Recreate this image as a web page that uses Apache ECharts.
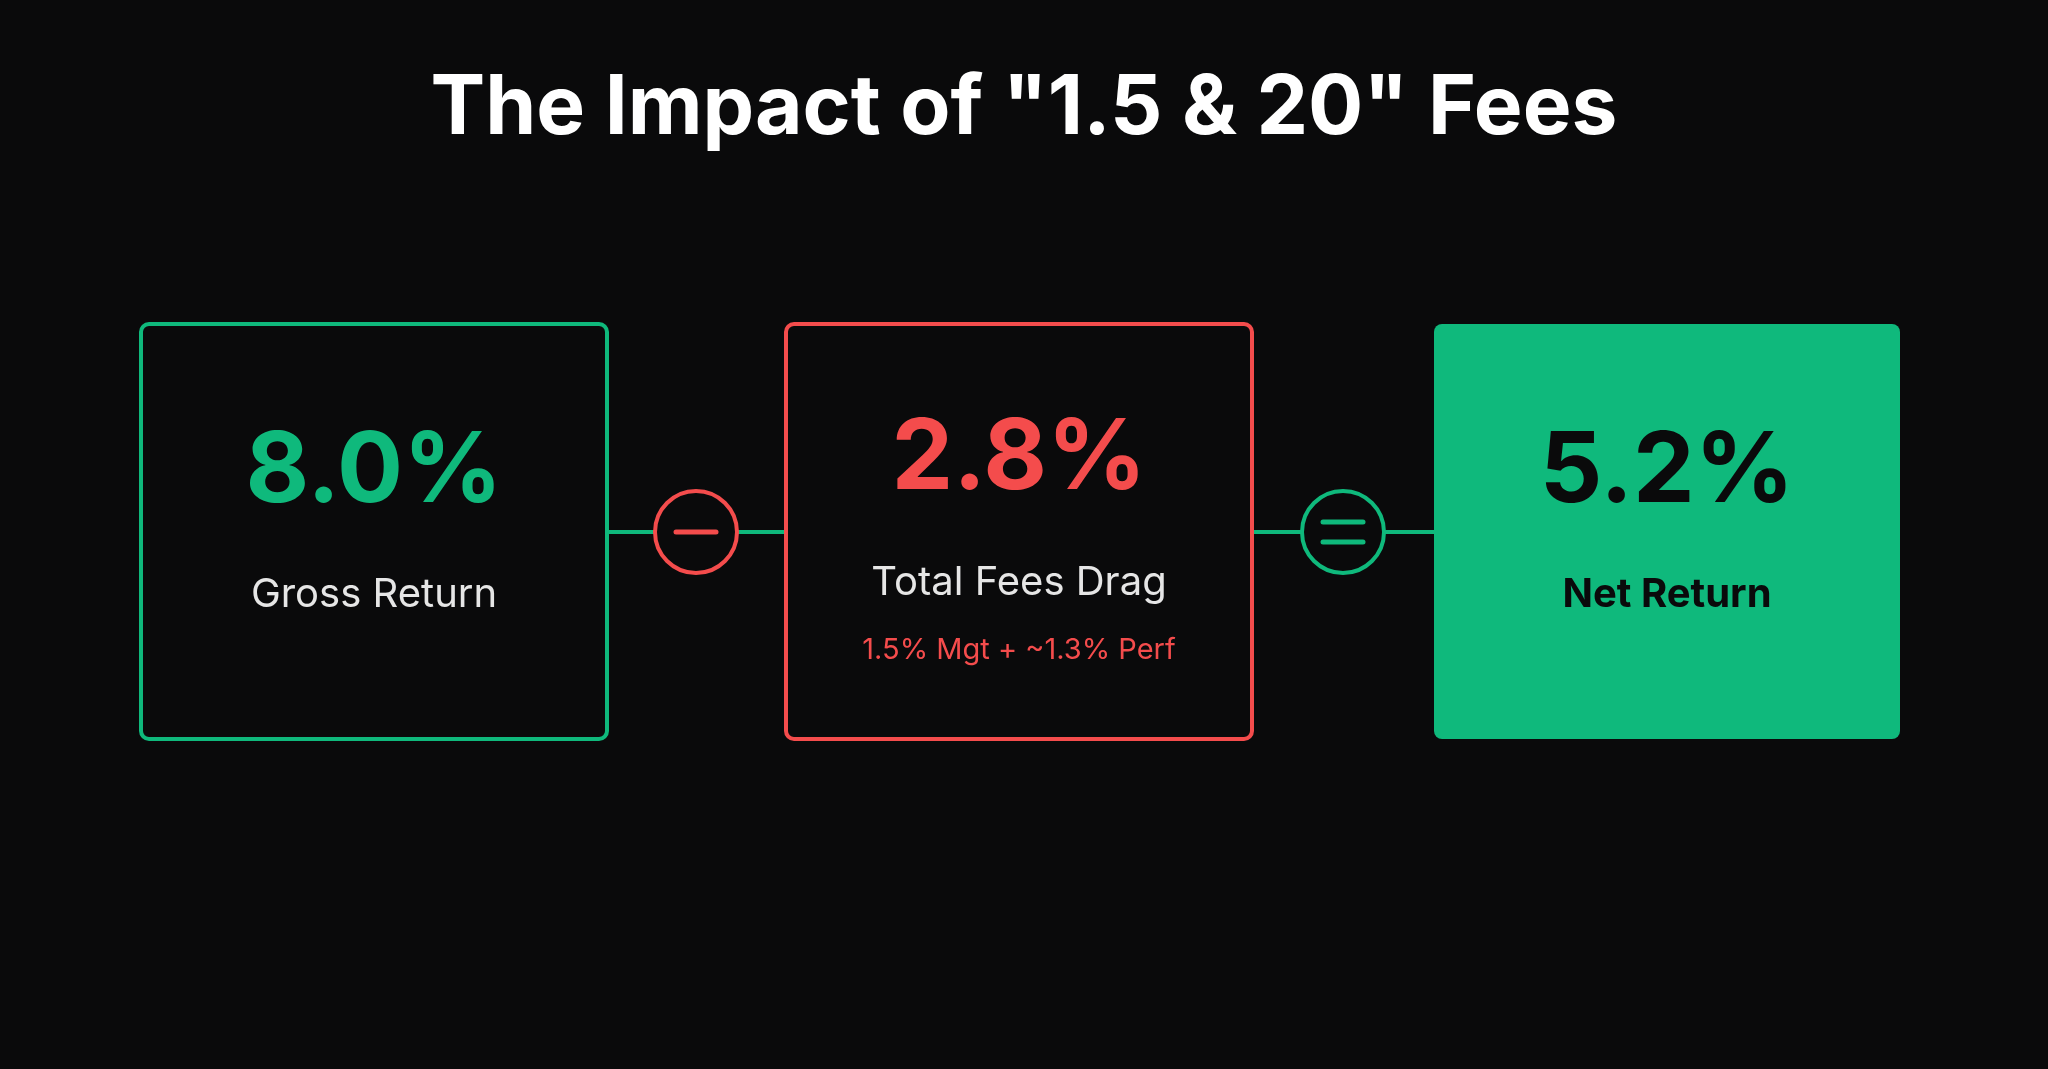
<!DOCTYPE html>
<html><head><meta charset="utf-8">
<script src="https://cdn.jsdelivr.net/npm/echarts@6/dist/echarts.min.js"></script>
<style>html,body{margin:0;background:#0a0a0b}#c{width:2048px;height:1069px}</style>
</head><body><div id="c"></div>
<script>
const titleText = 'The Impact of "1.5 & 20" Fees';
const values = ['8.0%', '2.8%', '5.2%'];
const labels = ['Gross Return', 'Total Fees Drag', 'Net Return'];
const subLabels = ['', '1.5% Mgt + ~1.3% Perf', ''];
const operators = ['minus', 'equals'];

const GREEN = '#0fb97c', RED = '#f44c4c', BG = '#0a0a0b';
const F = 'Inter, "Noto Sans", sans-serif';
const boxX = [141, 786, 1434], boxW = 466, boxY = 324, boxH = 415;
const styles = [
  {stroke: GREEN, fill: BG, val: GREEN, lab: '#e6e6e6'},
  {stroke: RED, fill: BG, val: RED, lab: '#e6e6e6'},
  {stroke: GREEN, fill: GREEN, val: '#0a0a0b', lab: '#0a0a0b'}
];
const g = [];
g.push({type:'text', left:'center', top:68, style:{text:titleText, fill:'#fff', font:'bold 82px '+F}});
// connectors
g.push({type:'line', shape:{x1:607,y1:532,x2:786,y2:532}, style:{stroke:GREEN,lineWidth:4}, z:1});
g.push({type:'line', shape:{x1:1254,y1:532,x2:1434,y2:532}, style:{stroke:GREEN,lineWidth:4}, z:1});
values.forEach((v,i)=>{
  const s = styles[i], cx = boxX[i] + boxW/2;
  g.push({type:'rect', shape:{x:boxX[i],y:boxY,width:boxW,height:boxH,r:8}, style:{fill:s.fill, stroke: i===2?null:s.stroke, lineWidth:4}, z:2});
  const hasSub = !!subLabels[i];
  g.push({type:'text', x:cx, y: hasSub?460:473, style:{text:v, fill:s.val, font:'bold 98px '+F, align:'center', verticalAlign:'middle'}, z:3});
  g.push({type:'text', x:cx, y: hasSub?583:595, style:{text:labels[i], fill:s.lab, font:(i===2?'bold ':'')+'40px '+F, align:'center', verticalAlign:'middle'}, z:3});
  if (hasSub) g.push({type:'text', x:cx, y:650, style:{text:subLabels[i], fill:RED, font:'29px '+F, align:'center', verticalAlign:'middle'}, z:3});
});
const opX = [696, 1343];
operators.forEach((op,i)=>{
  const c = op==='minus'?RED:GREEN, x = opX[i];
  g.push({type:'circle', shape:{cx:x,cy:532,r:41}, style:{fill:BG, stroke:c, lineWidth:4}, z:3});
  if (op==='minus') g.push({type:'line', shape:{x1:x-20,y1:532,x2:x+20,y2:532}, style:{stroke:c,lineWidth:5,lineCap:'round'}, z:4});
  else {
    g.push({type:'line', shape:{x1:x-20,y1:522,x2:x+20,y2:522}, style:{stroke:c,lineWidth:5,lineCap:'round'}, z:4});
    g.push({type:'line', shape:{x1:x-20,y1:542,x2:x+20,y2:542}, style:{stroke:c,lineWidth:5,lineCap:'round'}, z:4});
  }
});
const chart = echarts.init(document.getElementById('c'));
chart.setOption({backgroundColor:BG, animation:false, graphic:g});
</script></body></html>
